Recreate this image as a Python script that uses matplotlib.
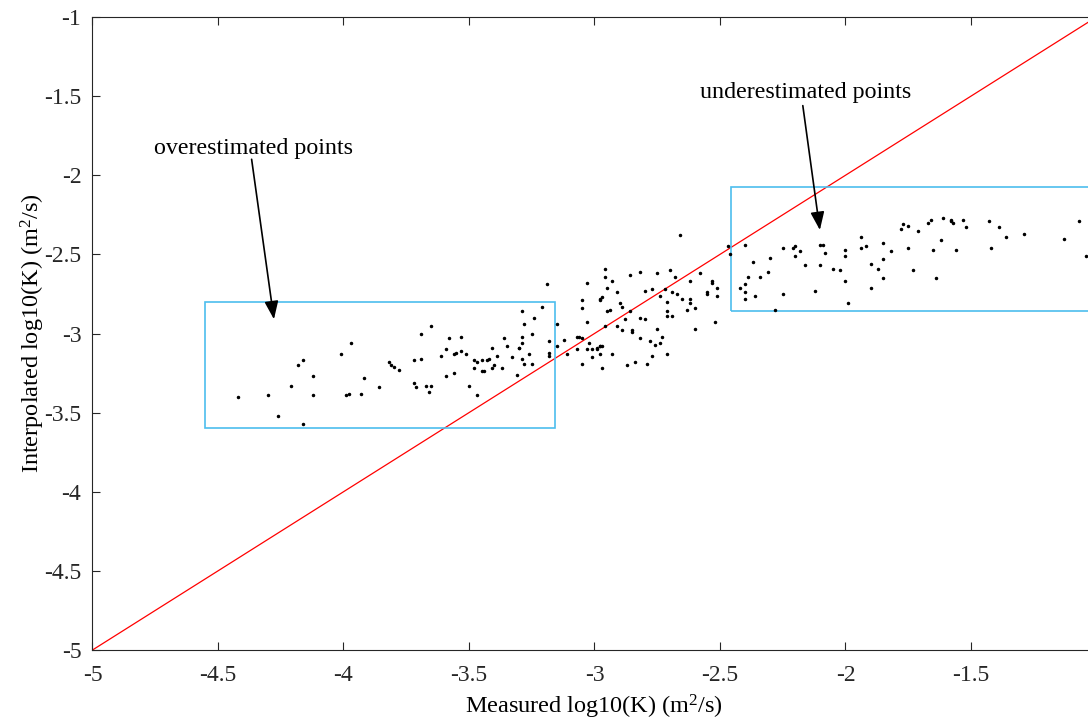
import matplotlib
matplotlib.use("Agg")
import matplotlib.pyplot as plt
from matplotlib.patches import Rectangle
import numpy as np

plt.rcParams['font.family'] = ['Liberation Serif', 'DejaVu Serif']
plt.rcParams['mathtext.fontset'] = 'custom'
plt.rcParams['mathtext.rm'] = 'Liberation Serif'
plt.rcParams['mathtext.it'] = 'Liberation Serif:italic'
plt.rcParams['axes.unicode_minus'] = False

# measured vs interpolated log10(K), m^2/s
measured = [
    -4.42, -4.30, -4.26, -4.21, -4.18, -4.16, -4.16, -4.12, -4.12, -4.01,
    -3.97, -3.99, -3.98, -3.93, -3.92, -3.86, -3.82, -3.81, -3.80, -3.78,
    -3.72, -3.71, -3.72, -3.69, -3.69, -3.65, -3.67, -3.65, -3.66, -3.61,
    -3.59, -3.59, -3.58, -3.56, -3.56, -3.55, -3.53, -3.53, -3.51, -3.50,
    -3.48, -3.47, -3.48, -3.47, -3.45, -3.44, -3.45, -3.43, -3.42, -3.41,
    -3.41, -3.40, -3.39, -3.37, -3.36, -3.35, -3.33, -3.31, -3.30, -3.30,
    -3.29, -3.29, -3.29, -3.29, -3.28, -3.28, -3.26, -3.25, -3.25, -3.24,
    -3.21, -3.18, -3.18, -3.18, -3.15, -3.15, -3.12, -3.11, -3.07, -3.07,
    -3.06, -3.19, -3.05, -3.05, -3.05, -3.05, -3.03, -3.03, -3.03, -3.02,
    -3.01, -3.01, -2.99, -2.99, -2.98, -2.98, -2.97, -2.98, -2.98, -2.98,
    -2.97, -2.97, -2.96, -2.96, -2.96, -2.95, -2.95, -2.94, -2.93, -2.93,
    -2.91, -2.91, -2.90, -2.89, -2.89, -2.88, -2.87, -2.86, -2.86, -2.85,
    -2.85, -2.84, -2.82, -2.82, -2.82, -2.80, -2.80, -2.79, -2.78, -2.77,
    -2.77, -2.76, -2.75, -2.75, -2.74, -2.74, -2.73, -2.72, -2.71, -2.71,
    -2.71, -2.71, -2.70, -2.69, -2.69, -2.68, -2.67, -2.66, -2.65, -2.63,
    -2.62, -2.62, -2.62, -2.60, -2.60, -2.58, -2.55, -2.55, -2.53, -2.53,
    -2.52, -2.51, -2.51, -2.47, -2.46, -2.42, -2.40, -2.39, -2.40, -2.40,
    -2.40, -2.37, -2.36, -2.34, -2.31, -2.30, -2.28, -2.25, -2.25, -2.21,
    -2.20, -2.20, -2.18, -2.16, -2.12, -2.10, -2.09, -2.10, -2.08, -2.05,
    -2.02, -2.00, -2.00, -2.00, -1.99, -1.94, -1.94, -1.92, -1.90, -1.90,
    -1.87, -1.85, -1.85, -1.85, -1.82, -1.78, -1.77, -1.75, -1.75, -1.73,
    -1.71, -1.67, -1.66, -1.65, -1.64, -1.62, -1.61, -1.58, -1.58, -1.57,
    -1.56, -1.53, -1.52, -1.43, -1.42, -1.39, -1.36, -1.29, -1.13, -1.07,
    -1.04,
]
interpolated = [
    -3.40, -3.39, -3.52, -3.33, -3.20, -3.17, -3.57, -3.27, -3.39, -3.13,
    -3.06, -3.39, -3.38, -3.38, -3.28, -3.34, -3.18, -3.20, -3.21, -3.23,
    -3.31, -3.34, -3.17, -3.16, -3.00, -2.95, -3.33, -3.33, -3.37, -3.14,
    -3.27, -3.10, -3.03, -3.13, -3.25, -3.12, -3.11, -3.02, -3.13, -3.33,
    -3.17, -3.18, -3.22, -3.39, -3.24, -3.24, -3.17, -3.17, -3.16, -3.09,
    -3.22, -3.20, -3.14, -3.22, -3.03, -3.08, -3.15, -3.26, -3.09, -3.09,
    -3.16, -2.86, -3.02, -3.06, -2.94, -3.19, -3.13, -3.19, -3.00, -2.90,
    -2.83, -3.14, -3.05, -3.12, -2.94, -3.08, -3.04, -3.13, -3.10, -3.02,
    -3.02, -2.69, -3.03, -2.79, -2.84, -3.19, -2.68, -2.93, -3.10, -3.06,
    -3.10, -3.15, -3.10, -3.09, -3.08, -3.08, -3.08, -3.13, -2.79, -2.78,
    -2.77, -3.22, -2.64, -2.59, -2.95, -2.86, -2.71, -2.85, -2.67, -3.13,
    -2.95, -2.74, -2.81, -2.98, -2.83, -2.91, -3.20, -2.63, -2.86, -2.98,
    -2.99, -3.18, -2.61, -2.90, -3.03, -2.91, -2.73, -3.19, -3.05, -3.14,
    -2.72, -3.07, -2.62, -2.97, -3.06, -2.76, -3.02, -2.72, -2.80, -3.13,
    -2.86, -2.89, -2.60, -2.74, -2.89, -2.64, -2.75, -2.38, -2.78, -2.85,
    -2.67, -2.81, -2.78, -2.84, -2.97, -2.62, -2.74, -2.75, -2.67, -2.68,
    -2.93, -2.71, -2.76, -2.45, -2.50, -2.71, -2.44, -2.64, -2.69, -2.74,
    -2.78, -2.55, -2.76, -2.64, -2.61, -2.52, -2.85, -2.46, -2.75, -2.46,
    -2.51, -2.45, -2.48, -2.57, -2.73, -2.44, -2.44, -2.57, -2.49, -2.59,
    -2.60, -2.47, -2.51, -2.67, -2.81, -2.39, -2.46, -2.45, -2.56, -2.71,
    -2.59, -2.43, -2.53, -2.65, -2.48, -2.34, -2.31, -2.32, -2.46, -2.60,
    -2.35, -2.30, -2.28, -2.47, -2.65, -2.41, -2.27, -2.28, -2.29, -2.30,
    -2.47, -2.28, -2.33, -2.29, -2.46, -2.33, -2.39, -2.37, -2.40, -2.29,
    -2.51,
]

one_to_one = [-5, -1]

# highlighted regions: (x_min, x_max, y_min, y_max)
over_box = (-4.553, -3.157, -3.599, -2.803)
under_box = (-2.456, -0.9, -2.856, -2.072)

box_color = '#4DBEEE'
tick_values = np.arange(-5, -0.99, 0.5)
tick_text = ['-5', '-4.5', '-4', '-3.5', '-3', '-2.5', '-2', '-1.5', '-1']

fig = plt.figure(figsize=(10.88, 7.24), dpi=100)
ax = fig.add_axes([0.085, 0.1022, 0.9228, 0.8743])

ax.plot(measured, interpolated, 'k.', markersize=3.0, zorder=3)
ax.plot(one_to_one, one_to_one, color='#FF0000', lw=0.9, zorder=2)

for x0, x1, y0, y1 in (over_box, under_box):
    ax.add_patch(Rectangle((x0, y0), x1 - x0, y1 - y0, fill=False,
                           edgecolor=box_color, lw=1.2, zorder=2))

arrow = dict(arrowstyle='-|>,head_length=1.1,head_width=0.42',
             color='black', lw=1.2, shrinkA=0, shrinkB=0)
ax.annotate('', xy=(-4.277, -2.91), xytext=(-4.366, -1.899),
            arrowprops=arrow)
ax.text(-4.357, -1.828, 'overestimated points', fontsize=17.3,
        ha='center', va='center')
ax.annotate('', xy=(-2.102, -2.346), xytext=(-2.170, -1.560),
            arrowprops=arrow)
ax.text(-2.157, -1.480, 'underestimated points', fontsize=17.3,
        ha='center', va='center')

ax.set_xlim(-5, -1)
ax.set_ylim(-5, -1)
ax.set_xticks(tick_values)
ax.set_yticks(tick_values)
# the right end of the x axis runs past the figure edge
ax.set_xticklabels(tick_text[:-1] + [''])
ax.set_yticklabels(tick_text)
ax.tick_params(direction='in', length=6, width=0.8, labelsize=17,
               top=True, right=True, colors='#262626')
ax.tick_params(axis='x', pad=11)
ax.tick_params(axis='y', pad=8)
for s in ax.spines.values():
    s.set_linewidth(0.8)
    s.set_color('#262626')

ax.set_xlabel(r'Measured log10(K) (m$^2$/s)', fontsize=17.5, labelpad=5)
ax.set_ylabel(r'Interpolated log10(K) (m$^2$/s)', fontsize=17.5, labelpad=-2)

fig.savefig('out.png', dpi=100)
